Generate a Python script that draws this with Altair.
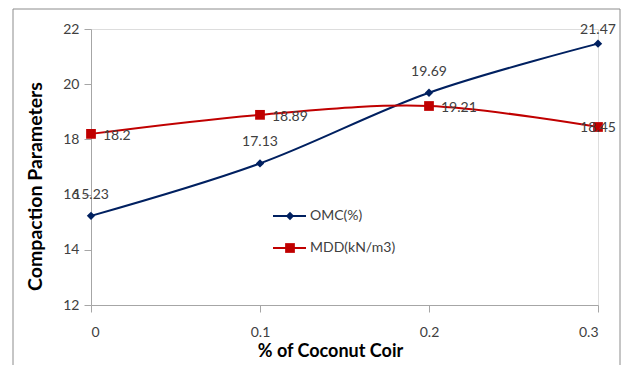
import altair as alt
import pandas as pd

coir = [0, 0.1, 0.2, 0.3]
omc = [15.23, 17.13, 19.69, 21.47]
mdd = [18.2, 18.89, 19.21, 18.45]
series_names = ["OMC(%)", "MDD(kN/m3)"]
colors = ["#002060", "#C00000"]

FONT = "Lato"
TXT = "#404040"

df = pd.DataFrame({
    "coir": coir * 2,
    "value": omc + mdd,
    "series": [series_names[0]] * 4 + [series_names[1]] * 4,
    "label": [f"{v:g}" for v in omc + mdd],
})

xscale = alt.Scale(domain=[0, 0.3], nice=False, zero=False)
yscale = alt.Scale(domain=[12, 22], nice=False, zero=False)

base = alt.Chart(df)

x_enc = alt.X("coir:Q", scale=xscale, title="% of Coconut Coir",
              axis=alt.Axis(values=coir, labelExpr="toString(datum.value)", grid=False, tickSize=7,
                            domainColor="#A6A6A6", tickColor="#A6A6A6",
                            labelColor=TXT, labelFontSize=14, labelFont=FONT,
                            labelPadding=13, titleFont=FONT, titleFontSize=18,
                            titleFontWeight="bold", titleColor="#000000",
                            titleX=239, titleY=46, titleAlign="center", titleBaseline="middle"))
y_enc = alt.Y("value:Q", scale=yscale, title="Compaction Parameters",
              axis=alt.Axis(values=[12, 14, 16, 18, 20, 22], grid=False, tickSize=7,
                            domainColor="#A6A6A6", tickColor="#A6A6A6",
                            labelColor=TXT, labelFontSize=14, labelFont=FONT,
                            labelPadding=5, titleFont=FONT, titleFontSize=19.5,
                            titleFontWeight="bold", titleColor="#000000",
                            titleX=-56, titleY=157, titleAlign="center", titleBaseline="middle",
                            titleAngle=270))
color_enc = alt.Color("series:N", scale=alt.Scale(domain=series_names, range=colors), legend=None)

lines = base.mark_line(interpolate="cardinal", strokeWidth=2).encode(x=x_enc, y=y_enc, color=color_enc)

omc_pts = base.transform_filter(alt.datum.series == series_names[0]).mark_point(
    shape="diamond", filled=True, size=70, opacity=1).encode(x="coir:Q", y="value:Q", color=color_enc)
mdd_pts = base.transform_filter(alt.datum.series == series_names[1]).mark_point(
    shape="square", filled=True, size=95, opacity=1).encode(x="coir:Q", y="value:Q", color=color_enc)

is_last = alt.datum.coir >= coir[-1]
omc_lbl = base.transform_filter(
    (alt.datum.series == series_names[0]) & ~is_last).mark_text(
    dy=-21, fontSize=14, font=FONT, color=TXT).encode(x="coir:Q", y="value:Q", text="label:N")
omc_lbl_last = base.transform_filter(
    (alt.datum.series == series_names[0]) & is_last).mark_text(
    dy=-14, fontSize=14, font=FONT, color=TXT).encode(x="coir:Q", y="value:Q", text="label:N")
mdd_lbl = base.transform_filter(
    (alt.datum.series == series_names[1]) & ~is_last).mark_text(
    align="left", dx=12, dy=2, fontSize=14, font=FONT, color=TXT).encode(x="coir:Q", y="value:Q", text="label:N")
mdd_lbl_last = base.transform_filter(
    (alt.datum.series == series_names[1]) & is_last).mark_text(
    align="center", dx=0, dy=1, fontSize=14, font=FONT, color=TXT).encode(x="coir:Q", y="value:Q", text="label:N")

# manual in-plot legend
one = pd.DataFrame({"a": [0]})
leg_layers = []
for i, (name, col, shp, sz) in enumerate(zip(series_names, colors, ["diamond", "square"], [70, 95])):
    yy = 187 + 32 * i
    lb = alt.Chart(one)
    leg_layers.append(lb.mark_rule(strokeWidth=2, color=col).encode(
        x=alt.value(182), x2=alt.value(215), y=alt.value(yy)))
    leg_layers.append(lb.mark_point(shape=shp, filled=True, size=sz, opacity=1, color=col).encode(
        x=alt.value(199), y=alt.value(yy)))
    leg_layers.append(lb.mark_text(align="left", baseline="middle", fontSize=14, font=FONT, color=TXT).encode(
        x=alt.value(219), y=alt.value(yy), text=alt.value(name)))

# outer chart-area border
frame = alt.Chart(one).mark_rect(
    fill=None, stroke="#8C8C8C", strokeWidth=1).encode(
    x=alt.value(-78), x2=alt.value(529), y=alt.value(-20), y2=alt.value(345))

chart = alt.layer(
    frame, lines, omc_pts, mdd_pts, omc_lbl, omc_lbl_last, mdd_lbl, mdd_lbl_last, *leg_layers
).properties(
    width=507, height=276,
    autosize=alt.AutoSizeParams(type="none"),
    padding={"left": 91, "top": 29, "right": 29, "bottom": 60},
).configure_view(stroke=None).configure(background="white")

chart.save("out.html", embed_options={"renderer": "svg", "actions": False})
